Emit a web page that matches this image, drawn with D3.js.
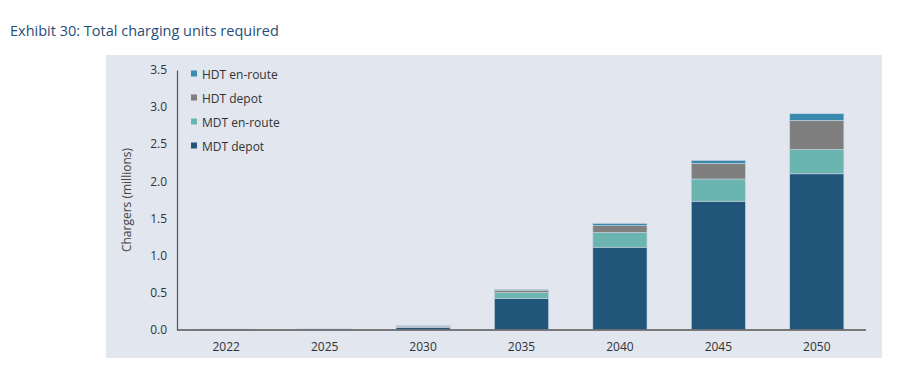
<!DOCTYPE html>
<html><head><meta charset="utf-8">
<script src="https://cdn.jsdelivr.net/npm/d3@7"></script>
<style>body{margin:0;background:#fff;} text{font-family:"Open Sans","Noto Sans",sans-serif;}</style>
</head><body>
<svg id="c" width="905" height="385"></svg>
<script>
const categories = ["2022","2025","2030","2035","2040","2045","2050"];
const mdtDepot   = [0.002,0.004,0.03,0.42,1.11,1.73,2.10];
const mdtEnroute = [0.001,0.001,0.01,0.08,0.20,0.30,0.33];
const hdtDepot   = [0.001,0.001,0.007,0.03,0.09,0.21,0.39];
const hdtEnroute = [0.0,0.0,0.003,0.01,0.03,0.04,0.09];
const seriesNames = ["MDT depot","MDT en-route","HDT depot","HDT en-route"];
const yTicks = [0,0.5,1.0,1.5,2.0,2.5,3.0,3.5];
const colors = ["#21557a","#6bb5b0","#7f7f7f","#3a8ab0"];

const svg = d3.select("#c");
svg.append("rect").attr("x",0).attr("y",0).attr("width",905).attr("height",385).attr("fill","#fff");
svg.append("text").attr("x",10).attr("y",36).attr("fill","#1f4e79").attr("font-size",14.5).text("Exhibit 30: Total charging units required");
svg.append("rect").attr("x",106).attr("y",55).attr("width",776).attr("height",303).attr("fill","#e1e6ef");

const x = d3.scaleBand().domain(categories).range([177,866]).paddingInner(0.45).paddingOuter(0.225);
const y = d3.scaleLinear().domain([0,3.5]).range([329.5,70]);

const table = categories.map((c,i)=>({cat:c,"MDT depot":mdtDepot[i],"MDT en-route":mdtEnroute[i],"HDT depot":hdtDepot[i],"HDT en-route":hdtEnroute[i]}));
const stack = d3.stack().keys(seriesNames)(table);

svg.append("g").selectAll("g").data(stack).join("g").attr("fill",(d,i)=>colors[i])
  .selectAll("rect").data(d=>d).join("rect")
  .attr("x",d=>x(d.data.cat)).attr("width",x.bandwidth())
  .attr("y",d=>y(d[1])).attr("height",d=>Math.max(0,y(d[0])-y(d[1])))
  .attr("stroke","#c9d3df").attr("stroke-width",0.6);

const ya = svg.append("g").attr("transform","translate(177,0)")
  .call(d3.axisLeft(y).tickValues(yTicks).tickFormat(d3.format(".1f")).tickSize(0).tickPadding(10));
ya.select(".domain").attr("stroke","#555").attr("stroke-width",1.2);
ya.selectAll("text").attr("font-size",12).attr("fill","#333").attr("font-family","Open Sans");

const xa = svg.append("g").attr("transform","translate(0,330)")
  .call(d3.axisBottom(x).tickSize(0).tickPadding(12));
xa.select(".domain").attr("stroke","#555").attr("stroke-width",1.5).attr("d","M177,0H866");
xa.selectAll("text").attr("font-size",12).attr("fill","#333").attr("font-family","Open Sans");

svg.append("text").attr("transform","translate(131,200) rotate(-90)").attr("text-anchor","middle")
  .attr("font-size",12).attr("fill","#444").text("Chargers (millions)");

const legOrder = [3,2,1,0];
const lg = svg.append("g");
legOrder.forEach((si,k)=>{
  const yy = 74 + k*24;
  lg.append("rect").attr("x",191).attr("y",yy-3.5).attr("width",6).attr("height",6).attr("fill",colors[si]);
  lg.append("text").attr("x",202).attr("y",yy+4.5).attr("font-size",12).attr("fill","#333").text(seriesNames[si]);
});
</script>
</body></html>
